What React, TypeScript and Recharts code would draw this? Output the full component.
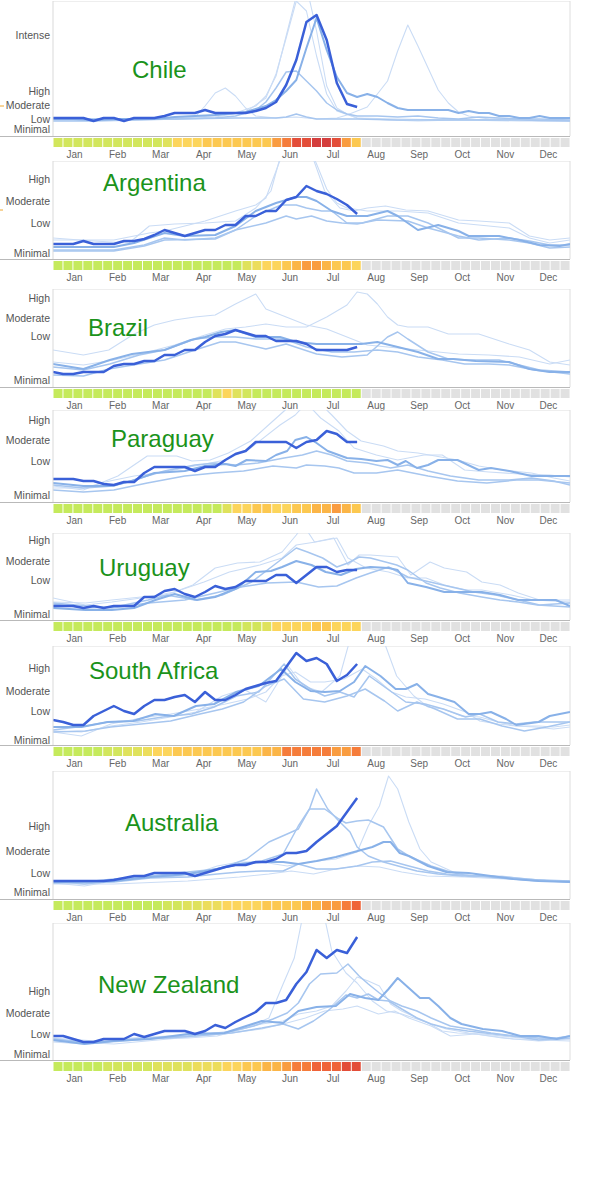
import React from 'react';
import { LineChart, Line, XAxis, YAxis, ReferenceLine, BarChart, Bar, Cell } from 'recharts';

type Pt = [number, number];

const FONT = '"Liberation Sans", Arial, Helvetica, sans-serif';

const months = ['Jan', 'Feb', 'Mar', 'Apr', 'May', 'Jun', 'Jul', 'Aug', 'Sep', 'Oct', 'Nov', 'Dec'];
const labels5 = ['Intense', 'High', 'Moderate', 'Low', 'Minimal'];
const labels4 = ['High', 'Moderate', 'Low', 'Minimal'];

const palette = ['#c5ea5c', '#d2e65c', '#dfe25c', '#ecdd5c', '#fcd55c', '#fcc850', '#fbb547', '#f99c40', '#f57c3a', '#ef6338', '#e34d38', '#d43d3c', '#e1e1e1'];

// ---------------- Chile ----------------
const chileTicks = [101, 45, 31, 17, 7];
const chileCurrent = [18, 18, 18, 18, 15, 18, 18, 15, 18, 18, 18, 20, 23, 23, 23, 26, 23, 23, 23, 23, 25, 28, 34, 51, 76, 114, 121, 96, 53, 32, 29];
const chileA: Pt[] = [[0, 17], [2, 17], [4, 16], [6, 17], [8, 17], [10, 17], [12, 19], [14, 20], [16, 21], [18, 23], [19, 24], [20, 27], [21, 30], [22, 36], [23, 45], [24, 56], [25, 88], [26, 118], [27, 86], [28, 59], [29, 43], [30, 39], [31, 42], [32, 39], [33, 33], [34, 28], [35, 26], [37, 26], [39, 26], [40, 23], [41, 25], [42, 23], [43, 23], [44, 20], [45, 20], [46, 18], [47, 18], [48, 20], [49, 18], [51, 18]];
const chileB: Pt[] = [[0, 15], [4, 15], [8, 16], [12, 17], [16, 18], [18, 20], [20, 26], [21, 34], [22, 48], [23, 64], [24, 65], [25, 55], [26, 45], [27, 33], [28, 26], [29, 22], [30, 20], [32, 20], [34, 19], [36, 20], [38, 18], [40, 17], [42, 19], [44, 18], [46, 17], [48, 17], [51, 16]];
const chileC: Pt[] = [[0, 17], [4, 17], [8, 17], [12, 18], [16, 20], [18, 23], [20, 30], [21, 40], [22, 60], [23, 100], [24, 140], [25, 150], [26, 105], [27, 50], [28, 28], [29, 22], [30, 18], [33, 16], [36, 15], [40, 16], [44, 17], [48, 16], [51, 16]];
const chileD: Pt[] = [[0, 16], [4, 16], [8, 16], [12, 17], [14, 19], [15, 30], [16, 43], [17, 48], [18, 40], [19, 28], [20, 20], [22, 18], [24, 19], [26, 17], [28, 18], [29, 21], [31, 29], [33, 55], [34, 85], [35, 111], [36, 90], [37, 68], [38, 46], [39, 33], [40, 24], [41, 20], [43, 17], [46, 16], [48, 15], [51, 15]];
const chileE: Pt[] = [[0, 17], [6, 17], [12, 17], [18, 18], [22, 18], [23, 19], [24, 22], [25, 19], [26, 17], [30, 17], [34, 16], [40, 16], [46, 16], [51, 15]];
const chileF: Pt[] = [[0, 16], [6, 16], [12, 17], [16, 19], [19, 24], [21, 38], [22, 62], [23, 98], [24, 135], [25, 125], [26, 80], [27, 42], [28, 25], [30, 18], [34, 17], [40, 16], [46, 15], [51, 15]];
const chileStrip = [1, 1, 1, 1, 1, 1, 1, 1, 1, 1, 1, 2, 4, 4, 4, 5, 5, 5, 5, 5, 5, 5, 7, 8, 10, 10, 11, 11, 10, 7, 5];

// ---------------- Argentina ----------------
const argTicks = [80, 58, 36, 6];
const argCurrent = [15, 15, 15, 18, 15, 15, 15, 18, 18, 20, 24, 29, 26, 23, 26, 29, 29, 34, 34, 43, 43, 48, 48, 59, 62, 73, 68, 65, 60, 54, 45];
const argA: Pt[] = [[0, 12], [3, 12], [6, 12], [8, 16], [11, 26], [13, 23], [16, 24], [18, 33], [20, 48], [22, 56], [24, 62], [25, 62], [26, 58], [27.5, 48], [29, 43], [31, 43], [33, 48], [34, 43], [36, 29], [38, 34], [40, 28], [41, 23], [44, 23], [46, 19], [48, 14], [50, 13], [51, 15]];
const argB: Pt[] = [[0, 9], [6, 9], [9, 14], [11, 21], [13, 19], [16, 21], [18, 29], [20, 43], [22.5, 54], [24, 54], [25, 51], [26.5, 48], [27.5, 48], [29, 36], [30.5, 36], [33, 43], [35, 43], [37, 36], [40, 21], [42, 21], [45, 19], [47, 16], [49, 11], [51, 12]];
const argC: Pt[] = [[0, 8], [6, 8], [9, 13], [11, 19], [16, 20], [18, 29], [21, 36], [23, 43], [24, 40], [25.5, 43], [27, 38], [28.5, 36], [30, 35], [32, 39], [35, 38], [37, 31], [40, 23], [42, 19], [45, 21], [47, 18], [49, 14], [51, 14]];
const argD: Pt[] = [[0, 21], [4, 18], [7.5, 16], [9.5, 33], [12, 35], [15, 36], [18, 38], [20, 51], [21.5, 68], [22.5, 105], [23.5, 140], [24.5, 140], [25.5, 105], [26.8, 68], [28.3, 51], [29.7, 48], [31, 51], [32.8, 53], [34.8, 49], [37, 48], [40, 39], [42, 38], [45, 36], [47, 23], [49, 19], [51, 21]];
const argE: Pt[] = [[0, 19], [6, 19], [9.5, 26], [11, 28], [15, 38], [18, 48], [20, 54], [21, 61], [22, 88], [23, 115], [24, 125], [25, 118], [26, 95], [27, 70], [28, 56], [29, 51], [31, 48], [34, 48], [37, 46], [40, 36], [42, 34], [45, 31], [47, 21], [49, 16], [51, 19]];
const argStrip = [0, 0, 0, 0, 0, 0, 0, 0, 0, 0, 0, 0, 0, 0, 0, 0, 0, 0, 0, 2, 3, 4, 4, 5, 6, 7, 7, 6, 5, 5, 4];

// ---------------- Brazil ----------------
const braTicks = [89, 69, 51, 7];
const braCurrent = [15, 13, 13, 15, 15, 15, 21, 23, 23, 26, 26, 32, 32, 37, 37, 45, 51, 53, 57, 54, 51, 51, 46, 46, 46, 43, 37, 37, 37, 37, 40];
const braA: Pt[] = [[0, 37], [3, 32], [5.5, 37], [8, 53], [10, 62], [12, 67], [14, 70], [16, 72], [18, 83], [20, 93], [21, 78], [23, 70], [25, 62], [27, 58], [29, 50], [31, 42], [33, 40], [35, 38], [37, 36], [40, 33], [43, 32], [46, 30], [49, 23], [51, 27]];
const braB: Pt[] = [[0, 25], [3, 22], [6, 27], [9, 34], [12, 42], [15, 52], [17, 58], [19, 60], [21, 63], [23, 60], [25, 60], [27, 70], [29, 82], [30, 95], [31, 93], [32, 83], [33, 70], [34, 62], [35, 60], [37, 60], [39, 53], [42, 53], [45, 43], [47, 37], [49, 25], [51, 22]];
const braC: Pt[] = [[0, 23], [3, 18], [5.6, 27], [7.8, 33], [11, 37], [13.6, 47], [15, 50], [16.6, 55], [18, 57], [20, 50], [22.4, 50], [24, 45], [26, 43], [28.2, 43], [30.4, 43], [32, 45], [34, 40], [36, 35], [38, 28], [39.5, 28], [41.7, 26], [45, 25], [47, 18], [49, 15], [51, 15]];
const braD: Pt[] = [[0, 20], [3, 17], [5.6, 23], [8.5, 32], [11, 37], [14, 48], [16, 50], [18, 50], [20, 48], [22.8, 48], [25, 40], [27.5, 35], [29.7, 35], [32, 37], [34, 35], [36, 30], [38.4, 27], [40.6, 23], [43, 23], [45, 22], [47.5, 17], [51, 13]];
const braE: Pt[] = [[0, 12], [3, 11], [5.5, 18], [8.5, 23], [11, 27], [14, 37], [16.5, 45], [18, 45], [21, 38], [23, 43], [26, 33], [28.5, 30], [31, 32], [33, 50], [34, 55], [35, 48], [37, 35], [39, 28], [41, 27], [44, 27], [46, 22], [48, 17], [51, 15]];
const braStrip = [0, 0, 0, 0, 0, 0, 0, 0, 0, 0, 0, 0, 0, 0, 0, 0, 2, 4, 2, 1, 0, 0, 0, 0, 0, 0, 0, 0, 0, 0, 0];

// ---------------- Paraguay ----------------
const parTicks = [82, 62, 41, 7];
const parCurrent = [23, 23, 23, 21, 21, 18, 17, 20, 20, 29, 35, 35, 35, 35, 31, 35, 35, 42, 48, 51, 60, 60, 60, 60, 54, 60, 62, 71, 68, 60, 60];
const parA: Pt[] = [[0, 19], [3, 16], [5.6, 16], [7.8, 21], [10, 29], [13, 31], [15, 36], [17, 38], [18, 36], [19.1, 42], [21, 41], [22, 47], [23.1, 51], [23.9, 62], [25, 65], [26, 59], [27.1, 51], [29, 44], [30.4, 43], [31.9, 41], [33, 42], [34, 37], [34.8, 41], [35.9, 34], [37, 37], [38, 42], [39.9, 42], [42, 32], [43.2, 34], [45, 31], [47.2, 26], [49, 26], [51, 26]];
const parB: Pt[] = [[0, 17], [3, 14], [6, 16], [8.6, 24], [11, 31], [14, 37], [16, 39], [18, 37], [20.2, 39], [22.8, 44], [24.6, 47], [26, 51], [27.5, 47], [29, 41], [31, 39], [33.3, 34], [35, 37], [37, 31], [39.2, 26], [42, 22], [45, 22], [47.2, 24], [49.4, 21], [51, 17]];
const parC: Pt[] = [[0, 12], [3, 10], [6, 12], [9.3, 19], [13, 26], [16, 29], [18.8, 31], [21.7, 36], [24, 34], [25, 37], [26.8, 36], [28.2, 34], [29.7, 29], [31.9, 29], [34, 32], [37, 26], [39.9, 21], [42.8, 19], [45.7, 22], [47.9, 22], [51, 19]];
const parD: Pt[] = [[0, 16], [3, 12], [6.4, 26], [9.3, 46], [12.2, 46], [13.7, 41], [15.5, 42], [17.3, 49], [19.5, 61], [21.7, 81], [22.8, 91], [23.9, 100], [25, 106], [26, 102], [27.5, 87], [29, 71], [30.4, 61], [32.6, 56], [34, 51], [36, 49], [37.7, 46], [39.9, 42], [42, 36], [44.3, 32], [47.2, 29], [49.4, 24], [51, 21]];
const parE: Pt[] = [[0, 14], [3, 14], [5.6, 21], [8, 26], [11, 30], [14, 36], [17, 42], [19.5, 54], [22.4, 77], [23.9, 87], [25, 99], [26.4, 84], [28.2, 71], [29.7, 54], [31.9, 47], [34, 42], [36.6, 47], [38.4, 47], [40.6, 32], [43, 30], [46, 28], [49, 27], [51, 25]];
const parStrip = [0, 0, 0, 0, 0, 0, 0, 0, 0, 0, 0, 0, 0, 0, 0, 0, 0, 2, 4, 4, 5, 5, 4, 4, 5, 5, 6, 6, 7, 6, 5];

// ---------------- Uruguay ----------------
const uruTicks = [80, 59, 40, 6];
const uruCurrent = [14, 14, 14, 12, 14, 12, 14, 14, 14, 23, 23, 29, 31, 26, 23, 28, 34, 31, 33, 39, 39, 39, 45, 45, 37, 45, 53, 53, 48, 50, 50];
const uruA: Pt[] = [[0, 12], [3.2, 10], [5.8, 10], [8, 12], [10.1, 20], [12, 26], [14.2, 20], [16, 23], [18.2, 32], [20, 48], [21.5, 49], [22.6, 53], [24, 59], [25.5, 55], [26.9, 48], [28.4, 45], [29.9, 51], [31.3, 53], [33.1, 52], [34, 50], [35, 37], [36.8, 33], [38.6, 28], [40.8, 28], [42.3, 28], [44.1, 25], [45.9, 20], [48, 20], [49.6, 20], [51, 14]];
const uruB: Pt[] = [[0, 16], [3.2, 12], [6.1, 13], [9.4, 20], [11.2, 25], [14, 20], [16.7, 25], [19.6, 38], [21.8, 55], [24, 72], [25.1, 68], [26.6, 62], [28, 53], [29.1, 57], [30.2, 63], [31.3, 62], [32.8, 58], [33.9, 55], [35, 50], [36.8, 37], [38.2, 32], [40.1, 27], [42.3, 23], [44.1, 20], [45.9, 18], [47.8, 15], [51, 13]];
const uruC: Pt[] = [[0, 18], [3.2, 17], [5.8, 20], [8.7, 23], [11.2, 25], [13.8, 35], [16, 52], [18.2, 57], [20.4, 58], [22.6, 68], [24, 85], [24.7, 95], [25.8, 78], [27.7, 82], [29.1, 55], [30.2, 65], [31.3, 65], [34, 63], [35.3, 45], [37.2, 58], [38.6, 52], [40.8, 48], [42.3, 38], [44.1, 35], [45.9, 27], [48, 20], [51, 20]];
const uruD: Pt[] = [[0, 22], [3.2, 15], [5.8, 18], [9.4, 23], [12, 28], [14.9, 38], [17.4, 48], [20.4, 55], [22.6, 62], [24, 75], [25.9, 78], [28, 82], [29.1, 62], [30.9, 52], [33.1, 48], [35, 42], [36.8, 42], [38.6, 35], [40.8, 30], [42.3, 30], [45.2, 25], [47.4, 20], [51, 18]];
const uruE: Pt[] = [[0, 17], [5.8, 12], [9.4, 17], [13, 20], [16, 27], [18.5, 33], [21.1, 37], [24, 38], [26.2, 33], [28, 34], [29.9, 42], [31.3, 47], [33.1, 53], [35, 43], [37.2, 38], [39.3, 33], [41.5, 28], [43.7, 25], [45.9, 20], [48, 15], [51, 17]];
const uruStrip = [0, 0, 0, 0, 0, 0, 0, 0, 0, 0, 0, 0, 0, 0, 0, 0, 0, 0, 0, 1, 1, 2, 4, 4, 4, 4, 5, 5, 4, 4, 4];

// ---------------- South Africa ----------------
const saTicks = [77, 54, 34, 5];
const saCurrent = [25, 23, 20, 20, 29, 34, 39, 34, 31, 39, 45, 45, 48, 50, 43, 53, 45, 45, 50, 56, 59, 62, 64, 78, 92, 84, 87, 81, 64, 70, 81];
const saA: Pt[] = [[0, 18], [2.8, 18], [5.4, 23], [7.9, 24], [10.1, 31], [11.9, 29], [14.1, 39], [15.9, 41], [18.1, 53], [20.3, 59], [22.5, 76], [23.9, 63], [25.4, 54], [26.8, 53], [28.3, 54], [29.7, 63], [30.8, 79], [32.3, 69], [33.8, 56], [34.8, 56], [35.9, 61], [37, 51], [38, 48], [39.6, 43], [41, 31], [42.1, 31], [43.2, 33], [44.7, 26], [45.7, 20], [47.9, 23], [49, 29], [51, 33]];
const saB: Pt[] = [[0, 15], [3.2, 19], [5.4, 23], [8.3, 24], [10.8, 28], [13.7, 31], [15.9, 38], [18.1, 49], [20.3, 53], [22.8, 81], [23.9, 66], [25.4, 56], [26.8, 49], [28.3, 53], [29.7, 48], [31.2, 69], [33, 56], [34.8, 43], [36.7, 41], [38.5, 36], [40.7, 28], [42.1, 31], [43.9, 23], [45.7, 21], [47.5, 23], [49.4, 23], [51, 23]];
const saC: Pt[] = [[0, 14], [2.8, 13], [5.7, 19], [8.7, 23], [11.6, 28], [14.1, 33], [16.7, 49], [18.8, 56], [21, 43], [23.2, 79], [24.7, 59], [26.5, 53], [28.3, 69], [29.2, 102], [30, 125], [31.2, 130], [32.7, 102], [33.9, 69], [35.6, 49], [37, 38], [38.5, 36], [40.3, 29], [42.1, 28], [43.9, 23], [45.7, 19], [47.5, 18], [49.4, 16], [51, 18]];
const saD: Pt[] = [[0, 13], [2.8, 9], [5.7, 21], [8.7, 27], [11.6, 31], [14.5, 36], [17, 41], [19.2, 46], [21, 53], [22.5, 69], [23.9, 73], [25.4, 63], [26.8, 63], [28.7, 66], [30.5, 76], [31.9, 66], [33.4, 53], [34.8, 48], [36.7, 46], [38.5, 41], [40.7, 33], [42.1, 24], [43.9, 21], [45.7, 19], [47.9, 19], [49.4, 18], [51, 20]];
const saE: Pt[] = [[0, 13], [3.2, 14], [5.7, 18], [8.7, 21], [11.6, 24], [14.5, 31], [16.7, 36], [18.8, 43], [21, 59], [22.8, 66], [24.7, 46], [26.8, 43], [29, 49], [30.8, 56], [32.7, 44], [34, 34], [35.9, 43], [37.7, 36], [39.9, 26], [42.1, 26], [44.3, 19], [46.5, 14], [48.7, 18], [51, 23]];
const saStrip = [0, 0, 0, 0, 0, 1, 1, 2, 2, 3, 4, 4, 5, 5, 5, 5, 5, 5, 5, 5, 5, 6, 6, 8, 8, 8, 8, 8, 7, 7, 8];

// ---------------- Australia ----------------
const ausTicks = [73, 48, 26, 7];
const ausCurrent = [18, 18, 18, 18, 18, 18, 19, 21, 23, 23, 26, 26, 26, 26, 23, 26, 29, 32, 34, 34, 37, 37, 40, 46, 46, 48, 57, 65, 73, 87, 101];
const ausA: Pt[] = [[0, 18], [3.1, 15], [6, 18], [8.9, 22], [11.8, 23], [14.7, 27], [16.9, 32], [19.1, 40], [21.3, 57], [23.1, 65], [24.2, 70], [25.3, 90], [26, 110], [27.1, 90], [28.2, 78], [29.3, 67], [30, 52], [31.1, 43], [32.6, 37], [34.4, 32], [35.9, 28], [38, 25], [40.3, 23], [42.4, 23], [44.6, 22], [46.8, 20], [49, 18], [51, 17]];
const ausB: Pt[] = [[0, 17], [3.1, 17], [6, 20], [9.6, 23], [13.3, 27], [16.2, 30], [18.4, 35], [20.6, 38], [22.7, 45], [24.2, 73], [25.3, 90], [26.8, 90], [28.2, 80], [28.9, 76], [30, 78], [31.1, 79], [32.6, 72], [34, 50], [35.1, 43], [37.3, 33], [39.2, 27], [41, 23], [43.2, 23], [45.4, 20], [47.9, 18], [51, 18]];
const ausC: Pt[] = [[0, 16], [3.1, 13], [6, 18], [9.6, 22], [13.3, 23], [16.2, 33], [18.4, 37], [20.6, 37], [23.1, 33], [25.3, 37], [27.9, 40], [30, 47], [31.1, 73], [32.2, 93], [33.1, 123], [34, 110], [35.1, 77], [36.2, 50], [37.3, 37], [39.5, 27], [41.7, 23], [44.3, 23], [46.8, 20], [49.7, 18], [51, 18]];
const ausD: Pt[] = [[0, 17], [6, 18], [9.6, 22], [13.3, 25], [16.2, 30], [18.4, 35], [20.6, 37], [22.7, 37], [24.2, 35], [26, 38], [27.9, 42], [29.7, 47], [31.5, 52], [32.6, 57], [33.3, 57], [34.2, 46], [35.1, 43], [37, 33], [38.8, 27], [41, 26], [43.2, 23], [45.4, 20], [47.9, 18], [51, 17]];
const ausE: Pt[] = [[0, 16], [6, 17], [9.6, 21], [13.3, 22], [16.2, 25], [18.4, 27], [20.6, 28], [22.7, 28], [24.2, 35], [26, 30], [27.9, 30], [30, 33], [31.5, 37], [33.3, 38], [35.1, 33], [37, 28], [38.8, 25], [41.7, 23], [45.4, 20], [51, 18]];
const ausF: Pt[] = [[0, 15], [6, 15], [13.3, 18], [18.4, 22], [21.3, 25], [23.5, 28], [25.7, 25], [27.9, 30], [30, 33], [32.2, 32], [34.4, 27], [36.9, 23], [40.6, 22], [51, 17]];
const ausStrip = [0, 0, 0, 0, 0, 0, 0, 0, 0, 0, 0, 1, 1, 2, 2, 3, 3, 4, 4, 4, 4, 5, 5, 5, 5, 6, 6, 7, 7, 8, 9];

// ---------------- New Zealand ----------------
const nzTicks = [69, 47, 26, 6];
const nzCurrent = [24, 24, 21, 18, 18, 21, 21, 21, 26, 23, 26, 29, 29, 29, 26, 29, 35, 32, 38, 43, 48, 57, 57, 60, 76, 88, 110, 102, 110, 107, 123];
const nzA: Pt[] = [[0, 21], [3.1, 17], [6, 19], [9.6, 22], [13.3, 24], [16.9, 27], [19.8, 34], [21.7, 41], [23.1, 47], [24.2, 57], [25.3, 76], [26.4, 86], [28, 87], [29.1, 96], [30.2, 84], [31.1, 76], [32.2, 67], [33.3, 59], [34.4, 54], [35.9, 49], [37.3, 42], [39.2, 34], [41, 31], [43.2, 27], [45.4, 24], [47.9, 22], [49.7, 22], [51, 24]];
const nzB: Pt[] = [[0, 20], [3.1, 16], [6, 19], [9.6, 21], [13.3, 26], [16.9, 27], [20.6, 39], [22.7, 37], [24.2, 49], [26, 53], [27.9, 54], [29.3, 66], [30.8, 62], [32.1, 60], [33.1, 71], [34, 82], [35.1, 72], [36.2, 62], [37.1, 62], [38, 54], [39.2, 42], [40.3, 36], [42.4, 31], [44.3, 29], [46.1, 24], [47.9, 24], [49.7, 21], [51, 24]];
const nzC: Pt[] = [[0, 18], [3.1, 16], [6, 18], [9.6, 21], [13.3, 22], [16.2, 24], [19.1, 32], [21.3, 42], [22.7, 76], [23.8, 102], [24.6, 142], [25.7, 160], [26.8, 142], [27.5, 109], [28.9, 87], [30, 77], [31.5, 59], [32.9, 49], [34.4, 46], [35.9, 41], [37.3, 36], [38.8, 31], [41, 27], [44.3, 22], [47.9, 19], [51, 21]];
const nzD: Pt[] = [[0, 22], [4.2, 19], [7.8, 22], [11.4, 24], [15.1, 26], [17.6, 29], [20.6, 36], [22.7, 39], [24.2, 46], [26, 49], [27.5, 54], [28.9, 69], [30, 83], [31.1, 79], [32.2, 74], [33.3, 56], [34.4, 49], [35.5, 44], [37, 37], [38.4, 29], [39.9, 27], [42.4, 26], [46.1, 22], [51, 21]];
const nzE: Pt[] = [[0, 21], [4.2, 17], [7.8, 21], [11.4, 22], [15.1, 25], [17.6, 27], [20.6, 32], [22.7, 36], [24.2, 31], [25.7, 39], [27.1, 49], [28.9, 65], [30, 62], [31.1, 66], [32.1, 60], [33.1, 59], [34.4, 51], [35.9, 42], [37.3, 36], [38.8, 32], [40.9, 29], [43.5, 26], [46.1, 23], [47.9, 20], [51, 22]];
const nzF: Pt[] = [[0, 19], [6, 16], [11.4, 21], [16.9, 26], [20.6, 31], [22.7, 36], [24.9, 42], [26.8, 49], [28.6, 51], [30, 54], [32.1, 46], [33.7, 49], [35.1, 42], [37.3, 34], [39.2, 24], [41.7, 26], [45.4, 21], [51, 19]];
const nzStrip = [0, 0, 0, 0, 0, 1, 1, 1, 1, 1, 2, 2, 2, 2, 3, 3, 3, 4, 4, 5, 5, 6, 6, 7, 8, 8, 9, 9, 9, 10, 10];

// ---------------- styles / layout ----------------
const TIER: Record<string, { c: string; w: number }> = {
  f: { c: '#cadcf5', w: 1.1 },
  l: { c: '#a7c6ef', w: 1.5 },
  m: { c: '#88b1e8', w: 2 },
};
const CURRENT_COLOR = '#3a60d8';
const GRAY_LEVEL = 12;

type Series = { pts: Pt[]; t: string };
type PanelCfg = {
  name: string; top: number; bottom: number; labels: string[]; ticks: number[];
  current: number[]; past: Series[]; strip: number[]; tx: number; ty: number;
};

const panels: PanelCfg[] = [
  { name: 'Chile', top: 1, bottom: 136, labels: labels5, ticks: chileTicks, current: chileCurrent, strip: chileStrip, tx: 132, ty: 78,
    past: [{ pts: chileC, t: 'f' }, { pts: chileD, t: 'f' }, { pts: chileF, t: 'f' }, { pts: chileE, t: 'l' }, { pts: chileB, t: 'l' }, { pts: chileA, t: 'm' }] },
  { name: 'Argentina', top: 161, bottom: 259, labels: labels4, ticks: argTicks, current: argCurrent, strip: argStrip, tx: 103, ty: 191,
    past: [{ pts: argD, t: 'f' }, { pts: argE, t: 'f' }, { pts: argC, t: 'l' }, { pts: argB, t: 'l' }, { pts: argA, t: 'm' }] },
  { name: 'Brazil', top: 289, bottom: 387, labels: labels4, ticks: braTicks, current: braCurrent, strip: braStrip, tx: 88, ty: 336,
    past: [{ pts: braA, t: 'f' }, { pts: braB, t: 'f' }, { pts: braE, t: 'l' }, { pts: braD, t: 'l' }, { pts: braC, t: 'm' }] },
  { name: 'Paraguay', top: 410, bottom: 502, labels: labels4, ticks: parTicks, current: parCurrent, strip: parStrip, tx: 111, ty: 447,
    past: [{ pts: parD, t: 'f' }, { pts: parE, t: 'f' }, { pts: parC, t: 'l' }, { pts: parB, t: 'l' }, { pts: parA, t: 'm' }] },
  { name: 'Uruguay', top: 533, bottom: 620, labels: labels4, ticks: uruTicks, current: uruCurrent, strip: uruStrip, tx: 99, ty: 576,
    past: [{ pts: uruC, t: 'f' }, { pts: uruD, t: 'f' }, { pts: uruE, t: 'l' }, { pts: uruB, t: 'l' }, { pts: uruA, t: 'm' }] },
  { name: 'South Africa', top: 646, bottom: 745, labels: labels4, ticks: saTicks, current: saCurrent, strip: saStrip, tx: 89, ty: 679,
    past: [{ pts: saC, t: 'f' }, { pts: saD, t: 'f' }, { pts: saE, t: 'l' }, { pts: saB, t: 'l' }, { pts: saA, t: 'm' }] },
  { name: 'Australia', top: 771, bottom: 899, labels: labels4, ticks: ausTicks, current: ausCurrent, strip: ausStrip, tx: 125, ty: 831,
    past: [{ pts: ausC, t: 'f' }, { pts: ausF, t: 'f' }, { pts: ausE, t: 'l' }, { pts: ausA, t: 'l' }, { pts: ausB, t: 'l' }, { pts: ausD, t: 'm' }] },
  { name: 'New Zealand', top: 923, bottom: 1060, labels: labels4, ticks: nzTicks, current: nzCurrent, strip: nzStrip, tx: 98, ty: 993,
    past: [{ pts: nzC, t: 'f' }, { pts: nzD, t: 'f' }, { pts: nzF, t: 'f' }, { pts: nzE, t: 'l' }, { pts: nzA, t: 'l' }, { pts: nzB, t: 'm' }] },
];

const monthTicks = months.map((_, m) => ((m + 0.5) * 52) / 12);

function Panel({ p }: { p: PanelCfg }) {
  const H = p.bottom - p.top;
  const cur = p.current.map((v, i) => ({ w: i, v }));
  const weeks = Array.from({ length: 52 }, (_, i) => ({
    i,
    v: 1,
    lv: i < p.strip.length ? p.strip[i] : GRAY_LEVEL,
  }));
  return (
    <>
      <div style={{ position: 'absolute', left: 0, top: p.top, width: 580, height: H }}>
        <LineChart width={580} height={H} margin={{ top: 0, right: 10, bottom: 0, left: 0 }}>
          <XAxis type="number" dataKey="w" domain={[0, 51]} hide allowDataOverflow />
          <YAxis
            type="number"
            domain={[0, H]}
            allowDataOverflow
            width={53}
            ticks={p.ticks}
            interval={0}
            tickFormatter={(v: number) => p.labels[p.ticks.indexOf(v)] ?? ''}
            axisLine={{ stroke: '#d9d9d9' }}
            tickLine={false}
            tickSize={0}
            tickMargin={3}
            tick={{ fontSize: 10.5, fill: '#555', fontFamily: FONT }}
          />
          <ReferenceLine y={H} stroke="#dedede" />
          <ReferenceLine x={51} stroke="#dedede" />
          {p.past.map((s, k) => (
            <Line
              key={k}
              data={s.pts.map(([w, v]) => ({ w, v }))}
              dataKey="v"
              type="linear"
              dot={false}
              activeDot={false}
              isAnimationActive={false}
              stroke={TIER[s.t].c}
              strokeWidth={TIER[s.t].w}
              strokeLinejoin="round"
            />
          ))}
          <Line
            data={cur}
            dataKey="v"
            type="linear"
            dot={false}
            activeDot={false}
            isAnimationActive={false}
            stroke={CURRENT_COLOR}
            strokeWidth={2.5}
            strokeLinejoin="round"
          />
        </LineChart>
      </div>
      <div style={{ position: 'absolute', left: 0, top: p.bottom, width: 570, height: 0, borderTop: '1px solid #b9b9b9' }} />
      <div style={{ position: 'absolute', left: 0, top: p.bottom + 2, width: 580, height: 25 }}>
        <BarChart
          width={580}
          height={25}
          data={weeks}
          margin={{ top: 0, right: 10, bottom: 0, left: 53 }}
          barCategoryGap={0.5}
        >
          <XAxis
            xAxisId="m"
            type="number"
            dataKey="i"
            domain={[0, 52]}
            ticks={monthTicks}
            interval={0}
            tickFormatter={(_v: number, i: number) => months[i]}
            axisLine={false}
            tickLine={false}
            tickSize={0}
            tickMargin={4}
            height={16}
            tick={{ fontSize: 10, fill: '#666', fontFamily: FONT }}
          />
          <XAxis dataKey="i" type="category" hide height={0} />
          <YAxis hide domain={[0, 1]} />
          <Bar dataKey="v" isAnimationActive={false}>
            {weeks.map((d) => (
              <Cell key={d.i} fill={palette[d.lv]} />
            ))}
          </Bar>
        </BarChart>
      </div>
    </>
  );
}

export default function App() {
  return (
    <div style={{ position: 'absolute', left: 0, top: 0, width: 600, height: 1200, background: '#fff', fontFamily: FONT }}>
      {panels.map((p) => (
        <Panel key={p.name} p={p} />
      ))}
      <svg width={600} height={1100} style={{ position: 'absolute', left: 0, top: 0, pointerEvents: 'none' }}>
        {panels.map((p) => (
          <text key={p.name} x={p.tx} y={p.ty} fontSize={24} fill="#1b931b" fontFamily={FONT}>
            {p.name}
          </text>
        ))}
        <line x1={0} y1={106} x2={4} y2={106} stroke="#f0a830" strokeWidth={1} />
        <line x1={0} y1={210} x2={3} y2={210} stroke="#f0a830" strokeWidth={1} />
      </svg>
    </div>
  );
}
